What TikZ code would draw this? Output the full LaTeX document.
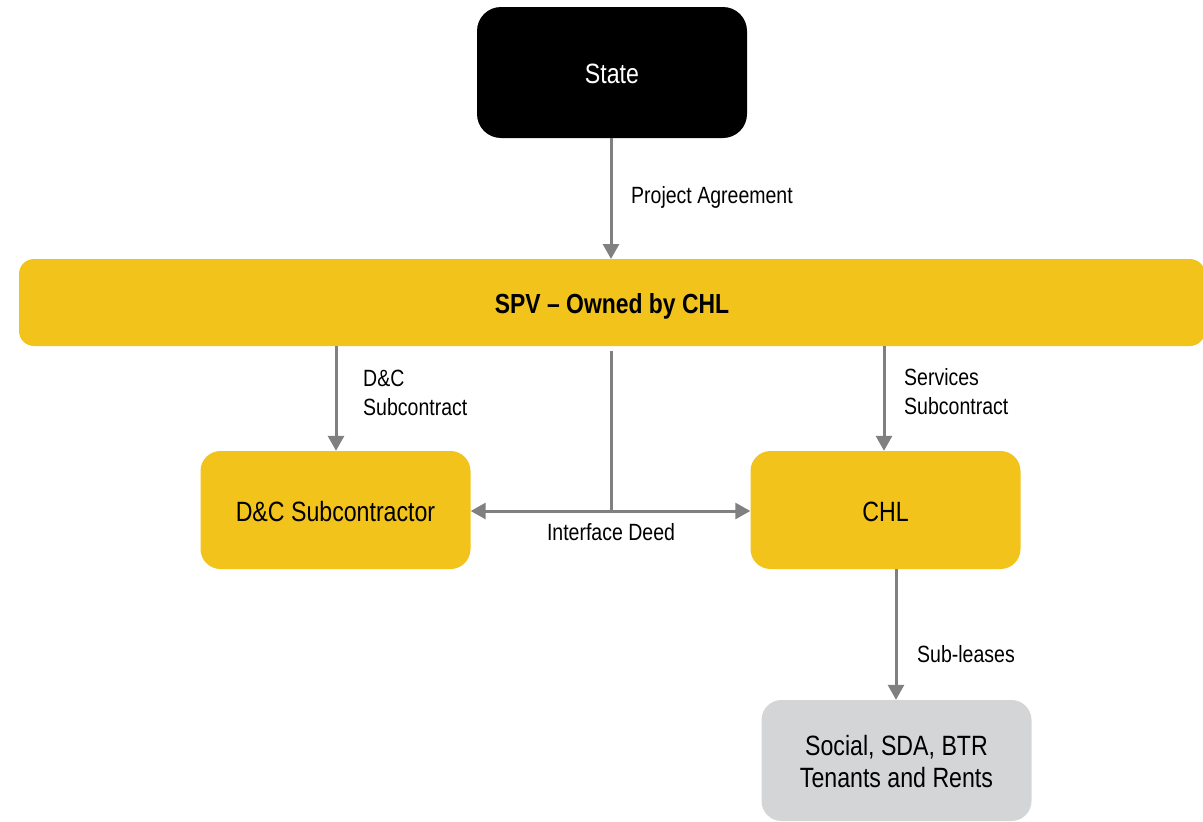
\documentclass[tikz,border=0pt]{standalone}
\usepackage{fontspec}
\setmainfont{Liberation Sans}[FakeStretch=0.83]
\usetikzlibrary{arrows.meta}
\definecolor{ey}{RGB}{242,195,26}
\definecolor{tgray}{RGB}{212,213,215}
\definecolor{agray}{RGB}{128,128,128}
\newcommand{\boxtext}[1]{\raisebox{-5pt}[\height][\depth]{\begin{tabular}{@{}c@{}}#1\end{tabular}}}
\begin{document}
\begin{tikzpicture}[x=1pt,y=-1pt,
  box/.style={rounded corners=20pt, minimum width=270pt, minimum height=118pt, inner sep=0pt, font=\fontsize{27.9}{32}\selectfont},
  ybox/.style={box, fill=ey},
  lbl/.style={font=\fontsize{23.5}{29}\selectfont, align=left, inner sep=0pt},
  arr/.style={draw=agray, line width=3pt, -{Triangle[length=15pt,width=16pt]}},
  ln/.style={draw=agray, line width=3pt}]
\useasboundingbox (0,0) rectangle (1203,822);
\node[box, fill=black, text=white, minimum height=131pt, rounded corners=24pt] (state) at (612,72.5) {\boxtext{State}};
\node[box, fill=ey, minimum width=1186pt, minimum height=87pt, rounded corners=15pt] (spv) at (612,302.5) {};
\node[font=\fontsize{27.6}{32}\selectfont\bfseries] (spvt) at (612,306) {SPV – Owned by CHL};
\node[ybox] (dc) at (335.5,510) {\boxtext{D\&C Subcontractor}};
\node[ybox] (chl) at (885.5,510) {\boxtext{CHL}};
\node[box, fill=tgray, minimum height=121pt] (ten) at (896.5,760.5) {\boxtext{Social, SDA, BTR\\Tenants and Rents}};
\draw[arr] (state.south -| 611,0) -- (611,259);
\draw[arr] (336,346) -- (dc.north -| 336,0);
\draw[arr] (884,346) -- (chl.north -| 884,0);
\draw[arr] (chl.south -| 896,0) -- (ten.north -| 896,0);
\coordinate (itop) at (611,351);
\coordinate (ij) at (611,511);
\draw[ln] (itop) -- (ij);
\draw[arr] (ij) -- (dc.east |- ij);
\draw[arr] (ij) -- (chl.west |- ij);
\node[lbl, anchor=west] (pa) at (631,197) {Project Agreement};
\node[lbl, anchor=west] (dcs) at (363,393) {D\&C\\Subcontract};
\node[lbl, anchor=west] (ss) at (904,392) {Services\\Subcontract};
\node[lbl, anchor=center] (idl) at (611,532) {Interface Deed};
\node[lbl, anchor=west] (sl) at (917,654) {Sub-leases};
\end{tikzpicture}
\end{document}
